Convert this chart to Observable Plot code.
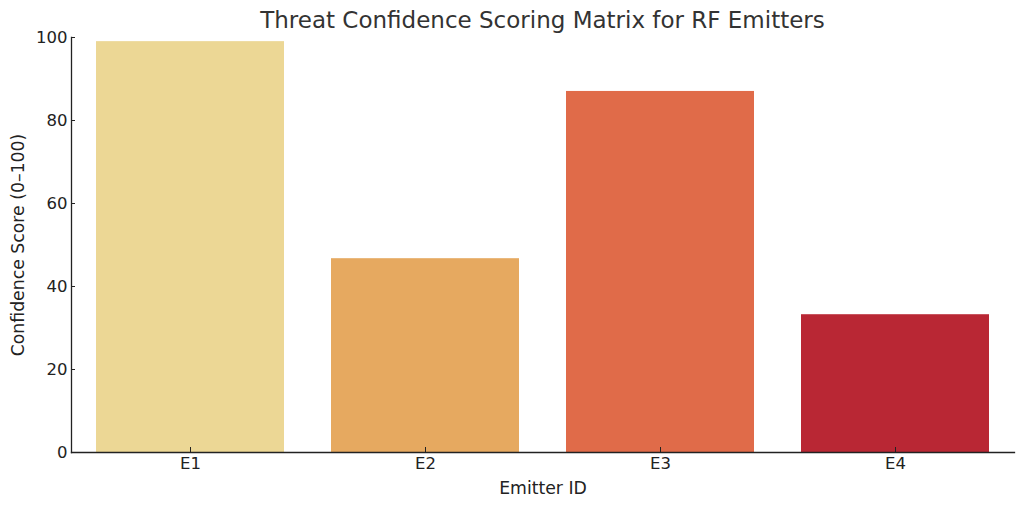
<!DOCTYPE html>
<html>
<head>
<meta charset="utf-8">
<script src="https://cdn.jsdelivr.net/npm/d3@7"></script>
<script src="https://cdn.jsdelivr.net/npm/@observablehq/plot@0.6"></script>
<style>
  html, body { margin: 0; padding: 0; background: #fff; }
  #wrap { position: relative; width: 1024px; height: 507px; font-family: "DejaVu Sans", sans-serif; }
  #title { position: absolute; left: 71px; width: 943px; top: 6px; text-align: center; font-size: 23px; color: #333; line-height: 28px; }
  #chart { position: absolute; left: 0; top: 0; }
</style>
</head>
<body>
<div id="wrap">
  <div id="chart"></div>
  <div id="title">Threat Confidence Scoring Matrix for RF Emitters</div>
</div>
<script>
const emitters = ["E1", "E2", "E3", "E4"];
const scores = [99, 46.7, 87.0, 33.2];
const colors = ["#ecd795", "#e6a960", "#e06b49", "#b92734"];
const yTicks = [0, 20, 40, 60, 80, 100];

const data = emitters.map((e, i) => ({emitter: e, score: scores[i], color: colors[i]}));

const chart = Plot.plot({
  width: 1024,
  height: 507,
  marginLeft: 71,
  marginRight: 10,
  marginTop: 37,
  marginBottom: 55,
  style: {fontFamily: "DejaVu Sans, sans-serif", fontSize: "16.5px", color: "#222", background: "#fff"},
  x: {domain: emitters, paddingInner: 0.2, paddingOuter: 0.1, label: null},
  y: {domain: [0, 100], label: null},
  marks: [
    Plot.barY(data, {x: "emitter", y: "score", fill: "color"}),
    Plot.axisY({ticks: yTicks, tickSize: -4, tickPadding: 8, stroke: "#222", fill: "#222", fontSize: 16.5, label: null}),
    Plot.axisX({tickSize: -5, tickPadding: 10, stroke: "#222", fill: "#222", fontSize: 16.5, label: null}),
    Plot.frame({anchor: "left", stroke: "#222", strokeWidth: 1.3}),
    Plot.frame({anchor: "bottom", stroke: "#222", strokeWidth: 1.3}),
    Plot.text(["Emitter ID"], {frameAnchor: "bottom", dy: 41, fontSize: 17.3, fill: "#222"}),
    Plot.text(["Confidence Score (0–100)"], {frameAnchor: "left", textAnchor: "middle", dx: -53, rotate: -90, fontSize: 17.3, fill: "#222"})
  ]
});
document.getElementById("chart").appendChild(chart);
</script>
</body>
</html>
